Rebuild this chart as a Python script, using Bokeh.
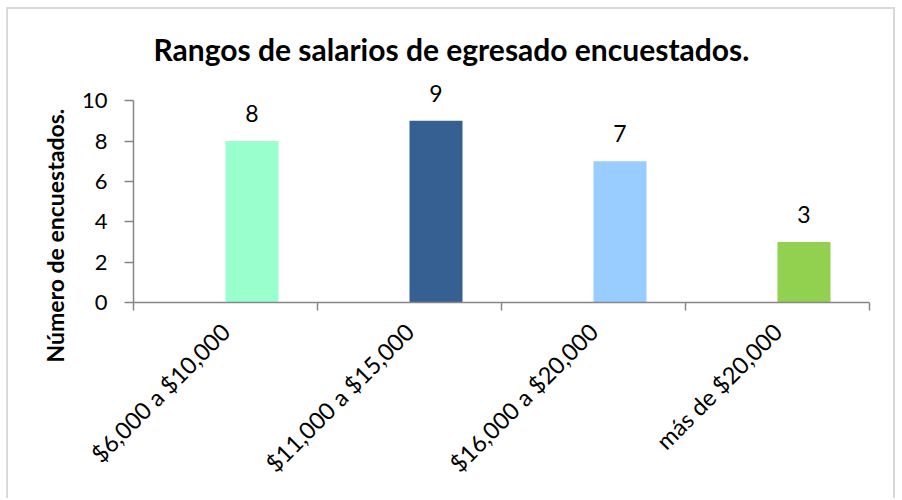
import math
from bokeh.plotting import figure
from bokeh.models import Range1d, FixedTicker, LinearAxis, ColumnDataSource, LabelSet, Title, Grid
from bokeh.core.properties import value
from bokeh.embed import file_html
from bokeh.resources import INLINE

# ---- data ----
title_text = "Rangos de salarios de egresado encuestados."
y_label = "Número de encuestados."
categories = ["$6,000 a $10,000", "$11,000 a $15,000", "$16,000 a $20,000", "más de $20,000"]
counts = [8, 9, 7, 3]
bar_colors = ["#99FFCC", "#366092", "#99CCFF", "#92D050"]
y_ticks = [0, 2, 4, 6, 8, 10]
y_max = 10

FONT = "Lato"
AXIS_C = "#868686"
GRID_C = "#d9d9d9"
AXIS_W = 1.5

idx = list(range(len(categories)))
bar_shift = 0.144
bar_w = 0.288
xs = [i + bar_shift for i in idx]
x_lo, x_hi = -0.5, len(categories) - 0.5

src = ColumnDataSource(dict(x=xs, top=counts, color=bar_colors,
                            label=[str(c) for c in counts]))

# frame extends one unit above the plot area so the labels above the bars are not clipped
p = figure(width=889, height=491, output_backend="svg", toolbar_location=None,
           x_range=Range1d(x_lo, x_hi), y_range=Range1d(0, y_max + 1),
           min_border_left=125, min_border_right=28, min_border_top=71,
           min_border_bottom=198, x_axis_type=None, y_axis_type=None,
           title=None,
           styles={"margin-left": "6px", "margin-top": "7px",
                   "border-left": "2px solid #d9d9d9", "border-top": "2px solid #d9d9d9",
                   "border-right": "2px solid #d9d9d9"})

p.outline_line_color = None
p.background_fill_color = "white"
p.border_fill_color = "white"

# title
p.add_layout(Title(text=title_text, align="left", offset=20, text_font=FONT,
                   text_font_size="30px", text_font_style="bold",
                   text_color="black", standoff=28), "above")

# y axis
yax = LinearAxis(ticker=FixedTicker(ticks=y_ticks), bounds=(0, y_max))
yax.major_label_text_font = FONT
yax.major_label_text_font_size = "22px"
yax.major_label_text_color = "black"
yax.major_label_standoff = 17
yax.axis_line_color = AXIS_C
yax.axis_line_width = AXIS_W
yax.major_tick_line_color = AXIS_C
yax.major_tick_line_width = AXIS_W
yax.major_tick_out = 9
yax.major_tick_in = 0
yax.minor_tick_line_color = None
p.add_layout(yax, "left")

# y axis title (offset downward as in the original)
p.add_layout(Title(text=y_label, align="left", offset=-60, text_font=FONT,
                   text_font_size="23px", text_font_style="bold",
                   text_color="black", standoff=19), "left")

# x axis: boundary ticks
bounds = [i - 0.5 for i in range(len(categories) + 1)]
xax = LinearAxis(ticker=FixedTicker(ticks=bounds))
xax.major_label_overrides = {b: "" for b in bounds}
xax.major_label_text_font_size = "1px"
xax.major_label_standoff = 0
xax.axis_line_color = AXIS_C
xax.axis_line_width = AXIS_W
xax.major_tick_line_color = AXIS_C
xax.major_tick_line_width = AXIS_W
xax.major_tick_out = 8
xax.major_tick_in = 0
xax.minor_tick_line_color = None
p.add_layout(xax, "below")

# x axis: category labels
lax = LinearAxis(ticker=FixedTicker(ticks=idx))
lax.major_label_overrides = {i: c for i, c in zip(idx, categories)}
lax.major_label_orientation = math.pi / 4
lax.major_label_text_font = FONT
lax.major_label_text_font_size = "23.5px"
lax.major_label_text_color = "black"
lax.major_label_standoff = 11
lax.axis_line_color = None
lax.major_tick_line_color = None
lax.minor_tick_line_color = None
p.add_layout(lax, "below")

# grids
p.ygrid.ticker = FixedTicker(ticks=y_ticks)
p.ygrid.grid_line_color = GRID_C
p.ygrid.grid_line_width = 1.5
p.ygrid.bounds = (x_lo, x_hi)
p.xgrid.ticker = FixedTicker(ticks=bounds[1:-1])
p.xgrid.grid_line_color = AXIS_C
p.xgrid.grid_line_width = AXIS_W
p.xgrid.bounds = (0, y_max)
p.add_layout(Grid(dimension=0, ticker=FixedTicker(ticks=[x_hi]), bounds=(0, y_max),
                  grid_line_color=GRID_C, grid_line_width=1.5))

p.vbar(x="x", top="top", width=bar_w, fill_color="color", line_color=None, source=src)
p.add_layout(LabelSet(x="x", y="top", text="label", text_align="center",
                      text_baseline="alphabetic", y_offset=19, text_font=value(FONT),
                      text_font_size=value("23px"), text_color="black", source=src))

open("out.html", "w").write(file_html(p, INLINE))
